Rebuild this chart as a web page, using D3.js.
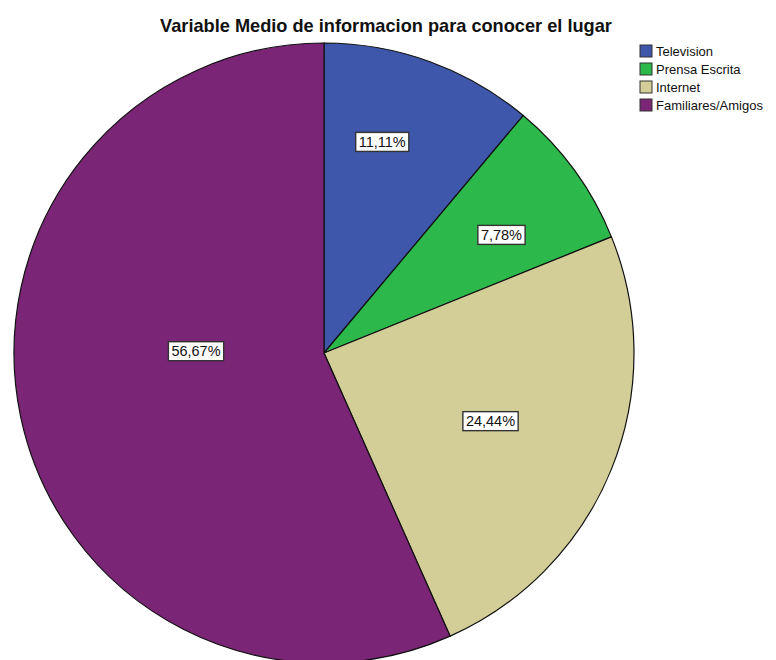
<!DOCTYPE html>
<html>
    <head>
        <script type="text/javascript" src="https://cdn.jsdelivr.net/npm/d3@7/dist/d3.min.js"></script>
        <style>
            body { margin: 0; background: #fff; }
        </style>
    </head>
    <body>
        <svg></svg>

        <script>
            var categories = ["Television", "Prensa Escrita", "Internet", "Familiares/Amigos"];
            var percents = [11.11, 7.78, 24.44, 56.67];
            var colors = ["#3e57ab", "#2cb84a", "#d3ce98", "#7b2577"];

            // where SPSS dropped the labels (angle in degrees from 12 o'clock, distance as share of radius)
            var labelAngle = [15.4, 56.3, 112.2, 270.9];
            var labelDist = [0.707, 0.688, 0.58, 0.413];

            var w = 776, h = 660;
            var cx = 324, cy = 353, r = 310;

            var svg = d3.select("svg")
                    .attr("width", w)
                    .attr("height", h)
                    .style("font-family", "Arial, 'Liberation Sans', sans-serif");

            svg.append("text")
                    .attr("x", 386)
                    .attr("y", 32)
                    .attr("text-anchor", "middle")
                    .attr("font-size", "18.2px")
                    .attr("font-weight", "bold")
                    .attr("fill", "#111")
                    .text("Variable Medio de informacion para conocer el lugar");

            var pie = d3.pie().sort(null).value(function(d) { return d; });
            var arc = d3.arc().innerRadius(0).outerRadius(r);

            var g = svg.append("g").attr("transform", "translate(" + cx + "," + cy + ")");

            g.selectAll("path")
                    .data(pie(percents))
                    .enter().append("path")
                    .attr("d", arc)
                    .attr("fill", function(d, i) { return colors[i]; })
                    .attr("stroke", "#111")
                    .attr("stroke-width", 1.2);

            var fmt = function(v) { return v.toFixed(2).replace(".", ",") + "%"; };

            var labels = g.selectAll("g.lbl")
                    .data(percents)
                    .enter().append("g")
                    .attr("class", "lbl")
                    .attr("transform", function(d, i) {
                        var a = labelAngle[i] * Math.PI / 180, dd = labelDist[i] * r;
                        return "translate(" + (Math.sin(a) * dd) + "," + (-Math.cos(a) * dd) + ")";
                    });

            labels.append("text")
                    .attr("text-anchor", "middle")
                    .attr("dy", "0.36em")
                    .attr("font-size", "14.5px")
                    .attr("fill", "#111")
                    .text(function(d) { return fmt(d); });

            labels.each(function() {
                var gg = d3.select(this);
                var bb = gg.select("text").node().getBBox();
                gg.insert("rect", "text")
                        .attr("x", bb.x - 3)
                        .attr("y", bb.y - 1.5)
                        .attr("width", bb.width + 6)
                        .attr("height", bb.height + 3)
                        .attr("fill", "#fff")
                        .attr("stroke", "#333")
                        .attr("stroke-width", 1.4);
            });

            var legend = svg.append("g").attr("transform", "translate(640,45)");
            var row = legend.selectAll("g")
                    .data(categories)
                    .enter().append("g")
                    .attr("transform", function(d, i) { return "translate(0," + (i * 18) + ")"; });

            row.append("rect")
                    .attr("width", 12)
                    .attr("height", 12)
                    .attr("fill", function(d, i) { return colors[i]; })
                    .attr("stroke", "#333")
                    .attr("stroke-width", 1);

            row.append("text")
                    .attr("x", 16)
                    .attr("y", 6)
                    .attr("dy", "0.36em")
                    .attr("font-size", "13px")
                    .attr("fill", "#111")
                    .text(function(d) { return d; });
        </script>
    </body>
</html>
